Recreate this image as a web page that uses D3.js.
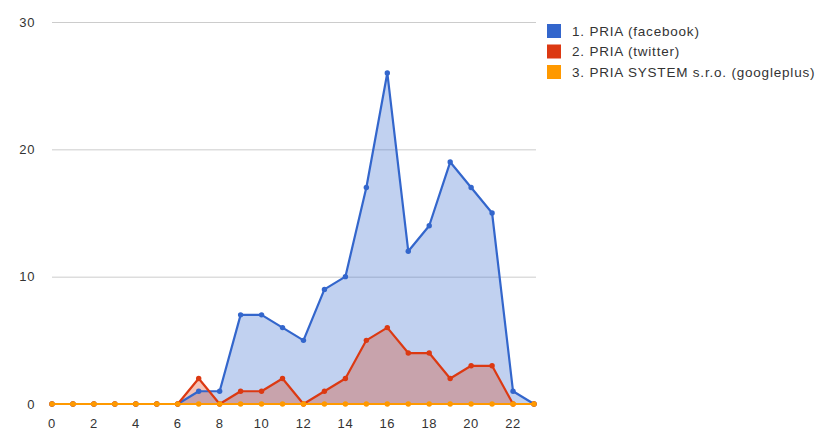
<!DOCTYPE html>
<html>
<head>
<meta charset="utf-8">
<script src="https://cdn.jsdelivr.net/npm/d3@7"></script>
<style>
  html, body { margin: 0; padding: 0; background: #fff; }
  svg { display: block; font-family: Arial, "Liberation Sans", sans-serif; }
</style>
</head>
<body>
<svg id="chart" width="829" height="446"></svg>
<script>
// Hours of the day (x) and post counts per network
const hours = d3.range(0, 24);
const facebook = [0,0,0,0,0,0,0,1,1,7,7,6,5,9,10,17,26,12,14,19,17,15,1,0];
const twitter  = [0,0,0,0,0,0,0,2,0,1,1,2,0,1,2,5,6,4,4,2,3,3,0,0];
const googleplus = [0,0,0,0,0,0,0,0,0,0,0,0,0,0,0,0,0,0,0,0,0,0,0,0];
const seriesNames = ["1. PRIA (facebook)", "2. PRIA (twitter)", "3. PRIA SYSTEM s.r.o. (googleplus)"];
const seriesColors = ["#3366cc", "#dc3912", "#ff9900"];
const yTicks = [0, 10, 20, 30];
const xTicks = d3.range(0, 24, 2);

const series = [facebook, twitter, googleplus];

const svg = d3.select("#chart");
const x = d3.scaleLinear().domain([0, 23]).range([52, 534]);
const y = d3.scaleLinear().domain([0, 30]).range([404, 22]);

// Horizontal gridlines
svg.append("g").selectAll("line").data(yTicks).join("line")
  .attr("x1", 52).attr("x2", 536)
  .attr("y1", d => y(d) + 0.5).attr("y2", d => y(d) + 0.5)
  .attr("stroke", "#cccccc").attr("stroke-width", 1);

// Y axis labels
svg.append("g").selectAll("text").data(yTicks).join("text")
  .attr("x", 35).attr("y", d => y(d) + 4.5)
  .attr("text-anchor", "end")
  .attr("font-size", 13).attr("letter-spacing", 0.6).attr("fill", "#333")
  .text(d => d);

// X axis labels
svg.append("g").selectAll("text").data(xTicks).join("text")
  .attr("x", d => x(d)).attr("y", 428)
  .attr("text-anchor", "middle")
  .attr("font-size", 13).attr("letter-spacing", 0.6).attr("fill", "#333")
  .text(d => d);

const area = d3.area().x((d, i) => x(hours[i])).y0(y(0)).y1(d => y(d));
const line = d3.line().x((d, i) => x(hours[i])).y(d => y(d));

series.forEach((vals, k) => {
  svg.append("g").append("path").datum(vals).attr("d", area)
    .attr("fill", seriesColors[k]).attr("fill-opacity", 0.3);
});
series.forEach((vals, k) => {
  const g = svg.append("g");
  g.append("path").datum(vals).attr("d", line)
    .attr("fill", "none").attr("stroke", seriesColors[k])
    .attr("stroke-width", 2.2).attr("stroke-linejoin", "round");
  g.selectAll("circle").data(vals).join("circle")
    .attr("cx", (d, i) => x(hours[i])).attr("cy", d => y(d))
    .attr("r", 2.7).attr("fill", seriesColors[k]);
});

// Legend
const legend = svg.append("g").attr("transform", "translate(547,24)");
seriesNames.forEach((name, k) => {
  const row = legend.append("g").attr("transform", `translate(0,${k * 20.5})`);
  row.append("rect").attr("width", 14).attr("height", 14)
    .attr("fill", seriesColors[k]);
  row.append("text").attr("x", 25).attr("y", 11.5)
    .attr("font-size", 13.5).attr("letter-spacing", 0.8).attr("fill", "#333").text(name);
});
</script>
</body>
</html>
